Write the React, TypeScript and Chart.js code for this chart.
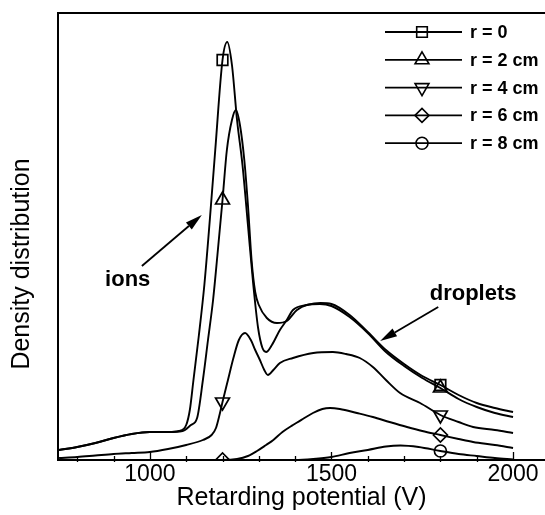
import React, { useEffect, useRef } from 'react';
import { Chart, registerables } from 'chart.js';

Chart.register(...registerables);

const FONT = '"Liberation Sans", Arial, Helvetica, sans-serif';

const seriesLabels = ['r = 0', 'r = 2 cm', 'r = 4 cm', 'r = 6 cm', 'r = 8 cm'];
const seriesPointStyles = ['rect', 'triangle', 'triangle', 'rectRot', 'circle'];
const seriesPointRotation = [0, 0, 180, 0, 0];
const seriesPointRadius = [7.5, 8, 8, 7, 6];

const r0V = [750, 800, 850, 900, 950, 1000, 1050, 1080, 1100, 1110, 1120, 1135, 1150, 1165, 1180, 1200, 1213, 1226, 1240, 1255, 1270, 1284, 1298, 1310, 1320, 1336, 1358, 1377, 1394, 1432, 1470, 1500, 1550, 1600, 1650, 1700, 1750, 1800, 1850, 1900, 1950, 2000];
const r0D = [10, 13, 17, 22, 26, 28, 28, 29, 35, 50, 80, 125, 175, 240, 310, 400, 418, 395, 340, 295, 235, 178, 132, 112, 108, 115, 130, 140, 150, 155, 157, 156, 145, 128, 110, 96, 84, 75, 65, 57, 52, 48];

const r2V = [750, 800, 850, 900, 950, 1000, 1050, 1090, 1113, 1130, 1146, 1160, 1174, 1186, 1200, 1212, 1226, 1237, 1248, 1260, 1270, 1280, 1290, 1300, 1322, 1350, 1377, 1405, 1432, 1468, 1500, 1550, 1600, 1650, 1700, 1750, 1800, 1850, 1900, 1950, 2000];
const r2D = [10, 13, 17, 22, 26, 28, 28, 29, 35, 42, 80, 120, 160, 205, 260, 310, 340, 350, 335, 300, 255, 200, 168, 155, 142, 137, 139, 150, 155, 156, 154, 143, 127, 108, 94, 82, 72, 61, 53, 47, 43];

const r4V = [750, 800, 850, 900, 950, 1000, 1050, 1100, 1146, 1170, 1182, 1193, 1200, 1215, 1230, 1245, 1262, 1278, 1290, 1303, 1315, 1325, 1340, 1358, 1394, 1450, 1504, 1540, 1578, 1614, 1650, 1689, 1744, 1800, 1850, 1890, 1950, 2000];
const r4D = [2, 3, 4.5, 6, 7, 8, 11, 15, 20, 25, 32, 47, 58, 80, 102, 120, 127, 120, 110, 100, 90, 85, 90, 97, 102, 107, 108, 106, 102, 93, 80, 67, 57, 45, 38, 33, 30, 27];

const r6V = [750, 1000, 1200, 1240, 1270, 1295, 1320, 1340, 1365, 1394, 1421, 1449, 1475, 1496, 1523, 1570, 1614, 1660, 1708, 1750, 1800, 1850, 1890, 1950, 2000];
const r6D = [0, 0, 0, 1, 4, 9, 15, 20, 28, 35, 41, 47, 51, 52, 51, 47, 43, 38, 33, 29, 25, 21, 18, 15, 12];

const r8V = [750, 1000, 1400, 1450, 1500, 1550, 1600, 1650, 1690, 1740, 1800, 1850, 1900, 1950, 2000];
const r8D = [0, 0, 0, 1, 3, 7, 10, 13.5, 14.5, 13, 9, 6, 4, 2, 0.5];

const r0Markers = [1200, 1800];
const r2Markers = [1200, 1800];
const r4Markers = [1200, 1800];
const r6Markers = [1200, 1800];
const r8Markers = [1800];

const xMin = 747;
const xMax = 2088;
const yMin = 0;
const yMax = 447;
const xTickLabels = [1000, 1500, 2000];
const xMinorStep = 100;

const xTitle = 'Retarding potential (V)';
const yTitle = 'Density distribution';

// annotations in data coordinates
const ionsText = 'ions';
const ionsTextPos = [939, 180];
const ionsArrowFrom = [978, 194];
const ionsArrowTo = [1143, 245];
const dropletsText = 'droplets';
const dropletsTextPos = [1890, 166];
const dropletsArrowFrom = [1794, 153];
const dropletsArrowTo = [1634, 119];

const allV = [r0V, r2V, r4V, r6V, r8V];
const allD = [r0D, r2D, r4D, r6D, r8D];
const allMarkers = [r0Markers, r2Markers, r4Markers, r6Markers, r8Markers];

function markerPath(ctx: CanvasRenderingContext2D, style: string, x: number, y: number, r: number, rotDeg: number) {
  ctx.beginPath();
  if (style === 'rect') {
    const s = r * Math.SQRT1_2;
    ctx.rect(x - s, y - s, 2 * s, 2 * s);
  } else if (style === 'triangle') {
    let a = (rotDeg * Math.PI) / 180;
    ctx.moveTo(x + Math.sin(a) * r, y - Math.cos(a) * r);
    a += (2 * Math.PI) / 3;
    ctx.lineTo(x + Math.sin(a) * r, y - Math.cos(a) * r);
    a += (2 * Math.PI) / 3;
    ctx.lineTo(x + Math.sin(a) * r, y - Math.cos(a) * r);
    ctx.closePath();
  } else if (style === 'rectRot') {
    ctx.moveTo(x - r, y);
    ctx.lineTo(x, y - r);
    ctx.lineTo(x + r, y);
    ctx.lineTo(x, y + r);
    ctx.closePath();
  } else {
    ctx.arc(x, y, r, 0, Math.PI * 2);
  }
  ctx.stroke();
}

function drawArrow(ctx: CanvasRenderingContext2D, x1: number, y1: number, x2: number, y2: number) {
  const ang = Math.atan2(y2 - y1, x2 - x1);
  const headLen = 17;
  const headW = 4.5;
  const bx = x2 - Math.cos(ang) * headLen;
  const by = y2 - Math.sin(ang) * headLen;
  ctx.beginPath();
  ctx.moveTo(x1, y1);
  ctx.lineTo(bx, by);
  ctx.lineWidth = 1.8;
  ctx.strokeStyle = '#000';
  ctx.stroke();
  ctx.beginPath();
  ctx.moveTo(x2, y2);
  ctx.lineTo(bx - Math.sin(ang) * headW, by + Math.cos(ang) * headW);
  ctx.lineTo(bx + Math.sin(ang) * headW, by - Math.cos(ang) * headW);
  ctx.closePath();
  ctx.fillStyle = '#000';
  ctx.fill();
}

const decorPlugin = {
  id: 'decor',
  afterDraw(chart: any) {
    const ctx: CanvasRenderingContext2D = chart.ctx;
    const { left, right, top, bottom } = chart.chartArea;
    const xs = chart.scales.x;
    const ys = chart.scales.y;
    ctx.save();
    // top frame line
    ctx.strokeStyle = '#000';
    ctx.lineWidth = 2;
    ctx.beginPath();
    ctx.moveTo(left - 1, top);
    ctx.lineTo(right, top);
    ctx.stroke();
    // inner ticks on x axis
    ctx.lineWidth = 1.3;
    for (let v = Math.ceil(xMin / xMinorStep) * xMinorStep; v <= xMax; v += xMinorStep) {
      const px = Math.round(xs.getPixelForValue(v)) + 0.5;
      const major = v % 500 === 0;
      ctx.beginPath();
      ctx.moveTo(px, bottom + (major ? 1 : 2));
      ctx.lineTo(px, bottom - (major ? 8 : 4));
      ctx.stroke();
    }
    // y title
    ctx.fillStyle = '#000';
    ctx.font = `25px ${FONT}`;
    ctx.textAlign = 'center';
    ctx.textBaseline = 'middle';
    ctx.save();
    ctx.translate(22, ys.getPixelForValue(196));
    ctx.rotate(-Math.PI / 2);
    ctx.fillText(yTitle, 0, 0);
    ctx.restore();
    // legend
    const lx0 = 385, lx1 = 462, lmx = 422, ltx = 470;
    seriesLabels.forEach((lab, i) => {
      const y = 32 + i * 27.8;
      ctx.strokeStyle = '#000';
      ctx.lineWidth = 1.8;
      ctx.beginPath();
      ctx.moveTo(lx0, y);
      ctx.lineTo(lx1, y);
      ctx.stroke();
      ctx.lineWidth = 1.6;
      markerPath(ctx, seriesPointStyles[i], lmx, y, seriesPointRadius[i], seriesPointRotation[i]);
      ctx.fillStyle = '#000';
      ctx.font = `bold 18px ${FONT}`;
      ctx.textAlign = 'left';
      ctx.textBaseline = 'middle';
      ctx.fillText(lab, ltx, y + 1);
    });
    // annotations
    ctx.font = `bold 22px ${FONT}`;
    ctx.textAlign = 'center';
    ctx.textBaseline = 'middle';
    ctx.fillStyle = '#000';
    ctx.fillText(ionsText, xs.getPixelForValue(ionsTextPos[0]), ys.getPixelForValue(ionsTextPos[1]));
    ctx.fillText(dropletsText, xs.getPixelForValue(dropletsTextPos[0]), ys.getPixelForValue(dropletsTextPos[1]));
    drawArrow(ctx, xs.getPixelForValue(ionsArrowFrom[0]), ys.getPixelForValue(ionsArrowFrom[1]), xs.getPixelForValue(ionsArrowTo[0]), ys.getPixelForValue(ionsArrowTo[1]));
    drawArrow(ctx, xs.getPixelForValue(dropletsArrowFrom[0]), ys.getPixelForValue(dropletsArrowFrom[1]), xs.getPixelForValue(dropletsArrowTo[0]), ys.getPixelForValue(dropletsArrowTo[1]));
    ctx.restore();
  },
};

export default function App() {
  const ref = useRef<HTMLCanvasElement | null>(null);
  useEffect(() => {
    if (!ref.current) return;
    const datasets = seriesLabels.map((label, i) => ({
      label,
      data: allV[i].map((v, k) => ({ x: v, y: allD[i][k] })),
      borderColor: '#000',
      borderWidth: 1.9,
      backgroundColor: 'rgba(0,0,0,0)',
      fill: false,
      cubicInterpolationMode: 'monotone' as const,
      pointStyle: seriesPointStyles[i] as any,
      pointRotation: seriesPointRotation[i],
      pointRadius: (c: any) => (c.raw && allMarkers[i].includes(c.raw.x) ? seriesPointRadius[i] : 0),
      pointHoverRadius: 0,
      pointBorderColor: '#000',
      pointBorderWidth: 1.7,
      pointBackgroundColor: 'rgba(0,0,0,0)',
    }));
    const chart = new Chart(ref.current, {
      type: 'line',
      data: { datasets },
      options: {
        responsive: false,
        animation: false,
        events: [],
        layout: { padding: { top: 13, right: 0, left: 0, bottom: 0 } },
        plugins: { legend: { display: false }, tooltip: { enabled: false } },
        scales: {
          x: {
            type: 'linear',
            min: xMin,
            max: xMax,
            ticks: {
              stepSize: xMinorStep,
              includeBounds: false,
              autoSkip: false,
              maxRotation: 0,
              minRotation: 0,
              padding: 1,
              color: '#000',
              font: { size: 23, family: FONT },
              callback: (v: any) => (xTickLabels.includes(Number(v)) ? String(v) : ''),
            },
            grid: { display: false, drawTicks: false },
            border: { display: true, color: '#000', width: 2 },
            title: { display: true, text: xTitle, color: '#000', font: { size: 25, family: FONT }, padding: { top: 0, bottom: 2 } },
            afterFit: (s: any) => { s.height = 55; },
          },
          y: {
            type: 'linear',
            min: yMin,
            max: yMax,
            ticks: { display: false },
            grid: { display: false, drawTicks: false },
            border: { display: true, color: '#000', width: 2 },
            afterFit: (s: any) => { s.width = 58; },
          },
        },
      },
      plugins: [decorPlugin],
    } as any);
    return () => chart.destroy();
  }, []);
  return (
    <div style={{ position: 'absolute', left: 0, top: 0, width: 545, height: 515, background: '#fff' }}>
      <canvas ref={ref} width={545} height={515} style={{ display: 'block' }} />
    </div>
  );
}
